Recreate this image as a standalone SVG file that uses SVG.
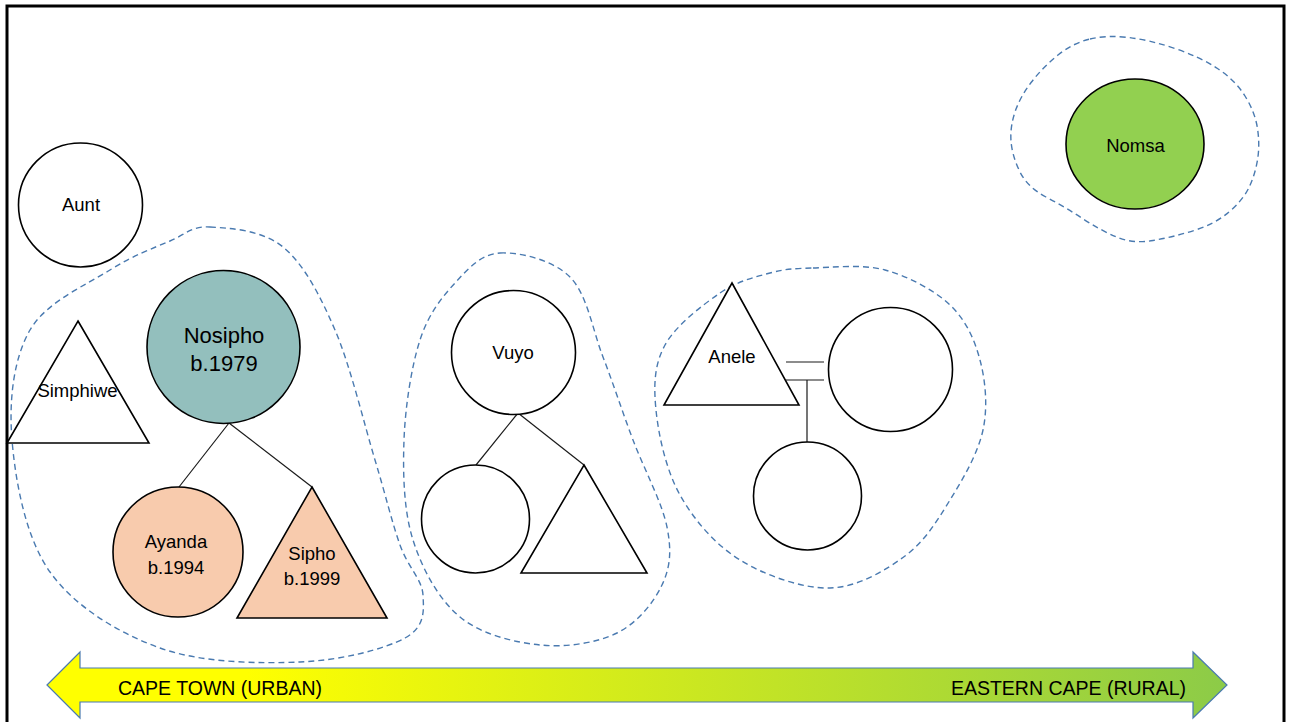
<svg xmlns="http://www.w3.org/2000/svg" width="1292" height="722" viewBox="0 0 1292 722">
  <style>
    .frame { fill: #ffffff; stroke: #000000; stroke-width: 3; }
    .node { stroke: #000000; stroke-width: 1.6; }
    .plain { fill: #ffffff; }
    .teal { fill: #93BFBD; }
    .peach { fill: #F8CBAD; }
    .green { fill: #92D050; }
    .household { fill: none; stroke: #4A7AB0; stroke-width: 1.4; stroke-dasharray: 6 4; }
    .link { fill: none; stroke: #1a1a1a; stroke-width: 1.2; }
    .label { font-family: "Liberation Sans", Arial, sans-serif; font-size: 18.5px; fill: #000000; text-anchor: middle; }
    .big { font-size: 22px; }
    .place { font-family: "Liberation Sans", Arial, sans-serif; font-size: 19.5px; fill: #000000; }
  </style>
  <defs>
    <linearGradient id="urbanRural" gradientUnits="userSpaceOnUse" x1="47" y1="0" x2="1227" y2="0">
      <stop offset="0" stop-color="#FFFF00"/>
      <stop offset="0.17" stop-color="#FFFF00"/>
      <stop offset="1" stop-color="#8CCB48"/>
    </linearGradient>
  </defs>

  <!-- outer frame -->
  <rect class="frame" x="7" y="6" width="1277" height="730"/>

  <!-- dashed household outlines -->
  <g id="households">
    <path class="household" d="M210,227 C228.8,228 262.2,229.8 283,247 C303.8,264.2 319.7,294.5 335,330 C350.3,365.5 364.2,424.2 375,460 C385.8,495.8 392,522.5 400,545 C408,567.5 422.2,579.5 423,595 C423.8,610.5 425.5,626.8 405,638 C384.5,649.2 340.8,660.3 300,662 C259.2,663.7 201.7,663 160,648 C118.3,633 74.7,606.7 50,572 C25.3,537.3 15.3,480.3 12,440 C8.7,399.7 13.7,358.3 30,330 C46.3,301.7 86.7,284.8 110,270 C133.3,255.2 153.3,248.2 170,241 C186.7,233.8 191.2,226 210,227 Z"/>
    <path class="household" d="M500,253 C519.2,252 552.8,259.7 570,277 C587.2,294.3 592.5,329.8 603,357 C613.5,384.2 622.3,411.7 633,440 C643.7,468.3 662.2,502.8 667,527 C671.8,551.2 670.3,567.3 662,585 C653.7,602.7 637.3,623 617,633 C596.7,643 566.2,647.7 540,645 C513.8,642.3 481.2,634.5 460,617 C438.8,599.5 422.3,569.5 413,540 C403.7,510.5 402.8,473.3 404,440 C405.2,406.7 411.5,366.2 420,340 C428.5,313.8 441.7,297.5 455,283 C468.3,268.5 480.8,254 500,253 Z"/>
    <path class="household" d="M813,268 C832.2,267.5 862.2,263.8 885,270 C907.8,276.2 934.2,290 950,305 C965.8,320 974.5,339.2 980,360 C985.5,380.8 988,406.7 983,430 C978,453.3 963,479 950,500 C937,521 925,541.3 905,556 C885,570.7 857.5,587.3 830,588 C802.5,588.7 765,575.5 740,560 C715,544.5 694,520 680,495 C666,470 658.5,435 656,410 C653.5,385 654.3,364.5 665,345 C675.7,325.5 702.5,305 720,293 C737.5,281 754.5,277.2 770,273 C785.5,268.8 793.8,268.5 813,268 Z"/>
    <path class="household" d="M1090,39 Q1107,35 1128.5,37.5 Q1150,40 1175,48.5 Q1200,57 1217.5,68.5 Q1235,80 1245,96 Q1255,112 1257.5,128.5 Q1260,145 1257.5,160 Q1255,175 1249,187.5 Q1243,200 1229,212 Q1215,224 1194,230.5 Q1173,237 1153,240.5 Q1133,244 1116.5,237 Q1100,230 1082.5,218.5 Q1065,207 1046,197 Q1027,187 1019.5,171 Q1012,155 1011,141 Q1010,127 1015,112 Q1020,97 1031.5,82 Q1043,67 1058,55 Q1073,43 1090,39 Z"/>
  </g>

  <!-- kinship connectors -->
  <g id="connectors">
    <line class="link" x1="229" y1="423" x2="179" y2="487"/>
    <line class="link" x1="229" y1="423" x2="312" y2="487"/>
    <line class="link" x1="518" y1="413" x2="476" y2="465"/>
    <line class="link" x1="518" y1="413" x2="584" y2="465"/>
    <line class="link" x1="786" y1="362" x2="824" y2="362"/>
    <line class="link" x1="786" y1="380" x2="824" y2="380"/>
    <line class="link" x1="807" y1="380" x2="807" y2="442"/>
  </g>

  <g id="aunt">
    <circle class="node plain" cx="80.5" cy="205" r="62"/>
    <text class="label" x="81" y="211">Aunt</text>
  </g>

  <g id="simphiwe">
    <polygon class="node plain" points="78,321 149,443 7,443"/>
    <text class="label" x="77.5" y="397">Simphiwe</text>
  </g>

  <g id="nosipho">
    <circle class="node teal" cx="223.5" cy="347" r="76.5"/>
    <text class="label big" x="224" y="343">Nosipho</text>
    <text class="label big" x="224" y="371">b.1979</text>
  </g>

  <g id="ayanda">
    <circle class="node peach" cx="178" cy="552" r="65"/>
    <text class="label" x="176" y="548">Ayanda</text>
    <text class="label" x="176" y="574">b.1994</text>
  </g>

  <g id="sipho">
    <polygon class="node peach" points="312,487 387,618 237,618"/>
    <text class="label" x="312" y="560">Sipho</text>
    <text class="label" x="312" y="585">b.1999</text>
  </g>

  <g id="vuyo">
    <circle class="node plain" cx="513.5" cy="352.5" r="62"/>
    <text class="label" x="513" y="359">Vuyo</text>
  </g>

  <g id="vuyo-daughter">
    <circle class="node plain" cx="475.5" cy="519" r="54"/>
  </g>

  <g id="vuyo-son">
    <polygon class="node plain" points="584,465 647,573 521,573"/>
  </g>

  <g id="anele">
    <polygon class="node plain" points="732,283 799,405 664,405"/>
    <text class="label" x="732" y="363">Anele</text>
  </g>

  <g id="anele-spouse">
    <circle class="node plain" cx="890.5" cy="369.5" r="62"/>
  </g>

  <g id="anele-child">
    <circle class="node plain" cx="807.5" cy="496" r="54"/>
  </g>

  <g id="nomsa">
    <ellipse class="node green" cx="1135" cy="144" rx="69" ry="65"/>
    <text class="label" x="1135.5" y="152">Nomsa</text>
  </g>

  <!-- urban to rural axis -->
  <g id="axis">
    <polygon points="47,685 80,652 80,668 1193,668 1193,652 1227,685 1193,718 1193,702 80,702 80,718" fill="url(#urbanRural)" stroke="#4A7AB0" stroke-width="1.2"/>
    <text class="place" x="118" y="695">CAPE TOWN (URBAN)</text>
    <text class="place" x="1186" y="695" text-anchor="end">EASTERN CAPE (RURAL)</text>
  </g>
</svg>
